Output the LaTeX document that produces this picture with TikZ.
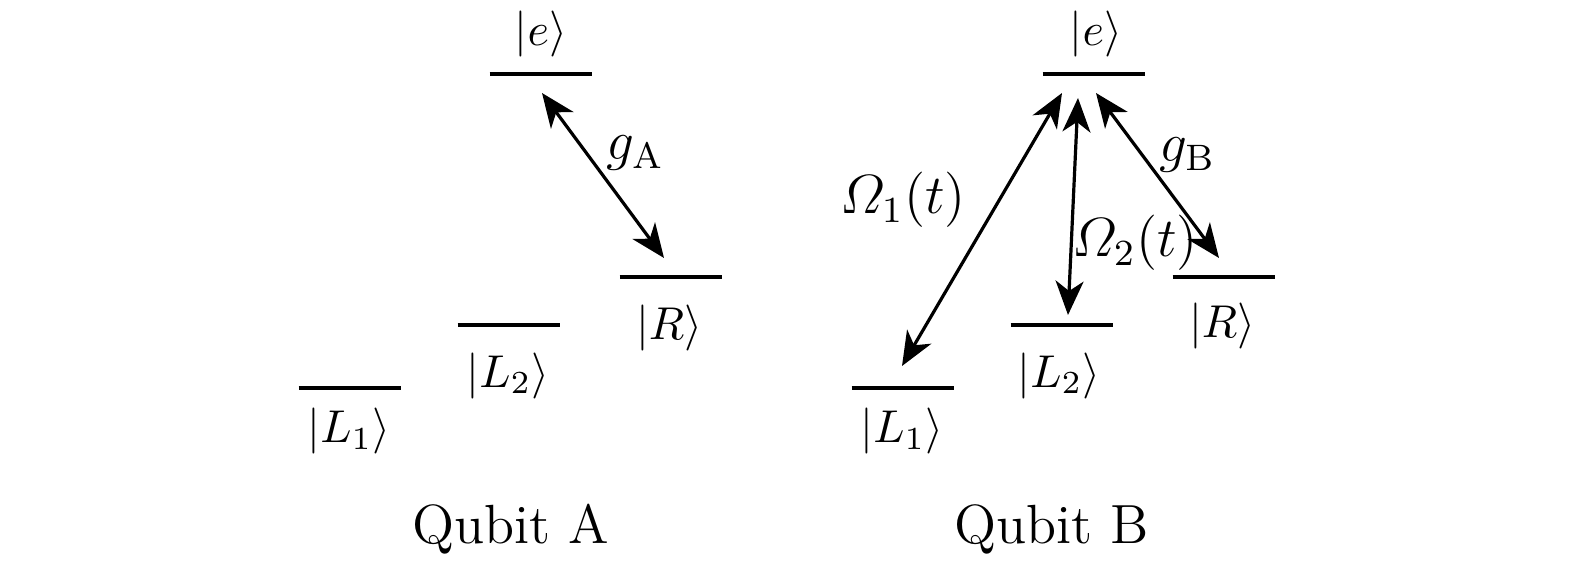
\documentclass[tikz,border=0pt]{standalone}
\usepackage{amsmath}
\usetikzlibrary{arrows.meta}
\newcommand\Sc[1]{\scalebox{2.3}{#1}}
\begin{document}
\begin{tikzpicture}[x=0.5pt,y=-0.5pt,
  lvl/.style={inner sep=0pt,minimum width=51pt,minimum height=0pt},
  lvlline/.style={line width=1.6pt},
  lab/.style={inner sep=0pt},
  captext/.style={inner sep=0pt},
  dbl/.style={line width=1.6pt,{Stealth[length=17pt,width=14pt,inset=5pt]}-{Stealth[length=17pt,width=14pt,inset=5pt]}}]
\useasboundingbox (0,0) rectangle (1575,561);
% Qubit A levels
\node[lvl] (eA) at (541,74) {};
\node[lvl] (RA) at (671,277) {};
\node[lvl] (L2A) at (509,325) {};
\node[lvl] (L1A) at (350,388) {};
% Qubit B levels
\node[lvl] (eB) at (1094,74) {};
\node[lvl] (RB) at (1224,277) {};
\node[lvl] (L2B) at (1062,325) {};
\node[lvl] (L1B) at (903,388) {};
\foreach \n in {eA,RA,L2A,L1A,eB,RB,L2B,L1B}
  \draw[lvlline] (\n.west) -- (\n.east);
% state labels A
\node[lab,anchor=base] (teA) at (541,46) {\Sc{$|e\rangle$}};
\node[lab,anchor=base] (tRA) at (669,340) {\Sc{$|R\rangle$}};
\node[lab,anchor=base] (tL2A) at (508,387) {\Sc{$|L_2\rangle$}};
\node[lab,anchor=base] (tL1A) at (349,443) {\Sc{$|L_1\rangle$}};
% state labels B
\node[lab,anchor=base] (teB) at (1096,46) {\Sc{$|e\rangle$}};
\node[lab,anchor=base] (tRB) at (1222,338) {\Sc{$|R\rangle$}};
\node[lab,anchor=base] (tL2B) at (1059,387) {\Sc{$|L_2\rangle$}};
\node[lab,anchor=base] (tL1B) at (902,443) {\Sc{$|L_1\rangle$}};
% couplings
\draw[dbl] ([shift={(1,19)}]eA.center) -- ([shift={(-7,-19)}]RA.center);
\draw[dbl] ([shift={(-32,19)}]eB.center) -- ([shift={(-1,-22)}]L1B.center);
\draw[dbl] ([shift={(-16,24)}]eB.center) -- ([shift={(6,-10)}]L2B.center);
\draw[dbl] ([shift={(2,19)}]eB.center) -- ([shift={(-5,-19)}]RB.center);
\node[lab,anchor=base west] (gA) at (606,160) {\Sc{\large$g_{\mathrm{A}}$}};
\node[lab,anchor=base west] (gB) at (1159,162) {\Sc{\large$g_{\mathrm{B}}$}};
\node[lab,anchor=base west] (O1) at (840,214) {\Sc{\large$\varOmega_1(t)$}};
\node[lab,anchor=base west] (O2) at (1072,257) {\Sc{\large$\varOmega_2(t)$}};
% captions
\node[captext,anchor=base] (qA) at (511,543) {\Sc{\large Qubit A}};
\node[captext,anchor=base] (qB) at (1052,543) {\Sc{\large Qubit B}};
\end{tikzpicture}
\end{document}
